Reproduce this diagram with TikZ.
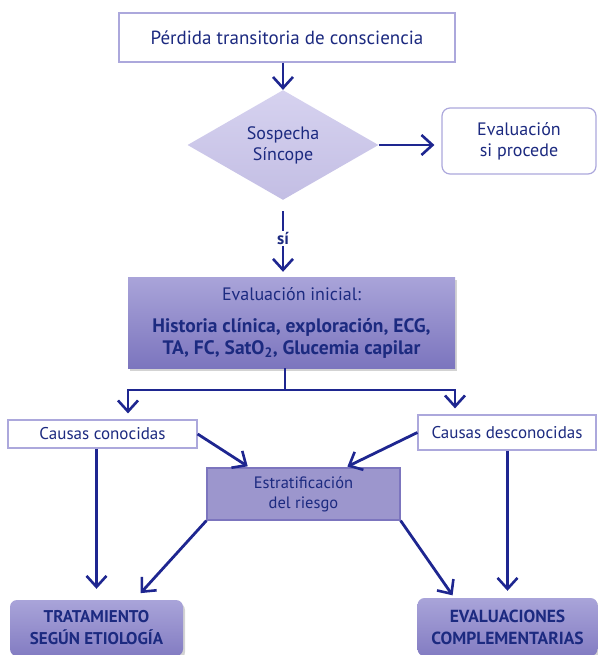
\documentclass[tikz,border=0pt]{standalone}
\usepackage{fontspec}
\setmainfont{PT Sans}
\usetikzlibrary{shapes.geometric,arrows.meta,shadows}
\definecolor{ink}{HTML}{1C2A80}
\definecolor{arrowblue}{HTML}{1E2690}
\definecolor{frame}{HTML}{ACA8DC}
\definecolor{lilac}{HTML}{D6D2EF}
\definecolor{lilacdark}{HTML}{C3BEE4}
\definecolor{violet}{HTML}{A9A4D9}
\definecolor{violetdark}{HTML}{7C75BE}
\definecolor{riesgo}{HTML}{9C96CD}

\begin{document}
\begin{tikzpicture}[x=1pt,y=-1pt,
  txt/.style={text=ink,font=\fontsize{18}{21}\selectfont,align=center},
  plainbox/.style={txt,draw=frame,line width=1.2pt,fill=white,inner sep=0pt},
  softbox/.style={plainbox,rounded corners=8pt},
  darkbox/.style={txt,rectangle,top color=violet,bottom color=violetdark,draw=none,
    drop shadow={opacity=0.35,shadow xshift=2pt,shadow yshift=-3pt},inner sep=0pt},
  endbox/.style={darkbox,rounded corners=7pt,top color=violet,bottom color=violetdark!85!violet},
  barb/.tip={Straight Barb[length=11pt,width=20pt,line width=2.6pt]},
  flow/.style={draw=arrowblue,line width=2.8pt,-barb}]
  \useasboundingbox (0,0) rectangle (597,655);

  \node[plainbox,minimum width=336pt,minimum height=49pt,font=\fontsize{19}{22}\selectfont]
    (perdida) at (287,37.5) {P\'erdida transitoria de consciencia};
  \node[txt,diamond,minimum width=191pt,minimum height=105pt,inner sep=0pt,
    top color=lilac,bottom color=lilacdark] (sospecha) at (283,145)
    {Sospecha\\S\'incope};
  \node[softbox,minimum width=154pt,minimum height=66pt] (evalsi) at (519,141)
    {Evaluaci\'on\\si procede};

  \node[darkbox,minimum width=327pt,minimum height=91pt,font=\fontsize{18}{22}\selectfont]
    (inicial) at (291.5,322.5)
    {Evaluaci\'on inicial:\\[10pt]
     \fontsize{19.5}{22}\selectfont\textbf{Historia cl\'inica, exploraci\'on, ECG,}\\
     \fontsize{19.5}{22}\selectfont\textbf{TA, FC, SatO\textsubscript{2}, Glucemia capilar}};

  \node[plainbox,minimum width=189pt,minimum height=28pt,font=\fontsize{17}{20}\selectfont]
    (conocidas) at (102.5,434) {Causas conocidas};
  \node[plainbox,minimum width=178pt,minimum height=35pt,font=\fontsize{17}{20}\selectfont]
    (desconocidas) at (507,432.5) {Causas desconocidas};
  \node[txt,draw=violetdark,line width=1.2pt,fill=riesgo,minimum width=193pt,
    minimum height=52pt,inner sep=0pt,font=\fontsize{16.5}{20}\selectfont]
    (riesgo) at (303.5,494) {Estratificaci\'on\\del riesgo};

  \node[endbox,minimum width=173pt,minimum height=56pt,font=\fontsize{17}{22}\selectfont]
    (tratamiento) at (96.5,628)
    {\textbf{TRATAMIENTO}\\\textbf{SEG\'UN ETIOLOG\'IA}};
  \node[endbox,minimum width=180pt,minimum height=58pt,font=\fontsize{17.5}{22}\selectfont]
    (complementarias) at (507.5,627)
    {\textbf{EVALUACIONES}\\\textbf{COMPLEMENTARIAS}};

  \coordinate (split) at (285,390);
  \coordinate (lft) at (128,390);
  \coordinate (rgt) at (455,390);

  \draw[flow] (perdida.south -| sospecha.north) -- (sospecha.north);
  \draw[flow,shorten >=7pt] (sospecha.east) -- (sospecha.east -| evalsi.west);
  \draw[flow,shorten <=11pt,shorten >=5pt] (sospecha.south) -- (inicial.north -| sospecha.south)
    node[midway,fill=white,inner sep=1pt,txt,font=\fontsize{17}{20}\selectfont]
    {\textbf{s\'i}};

  \draw[flow,-] (inicial.south -| split) -- (split);
  \draw[flow,barb-barb,shorten <=6pt,shorten >=6pt]
    (lft |- conocidas.north) -- (lft) -- (rgt) -- (rgt |- desconocidas.north);

  \draw[flow,shorten >=2pt] (conocidas.east) -- ([xshift=43pt]riesgo.north west);
  \draw[flow,shorten >=2pt] (desconocidas.west) -- ([xshift=-55pt]riesgo.north east);

  \draw[flow,shorten >=11pt] (conocidas.south -| tratamiento.north) -- (tratamiento.north);
  \draw[flow,shorten >=7pt] (desconocidas.south -| complementarias.north) -- (complementarias.north);
  \draw[flow,shorten >=9pt] (riesgo.south west) -- ([xshift=38pt]tratamiento.north);
  \draw[flow,shorten >=3pt] (riesgo.south east) -- ([xshift=37pt]complementarias.north west);
\end{tikzpicture}
\end{document}
